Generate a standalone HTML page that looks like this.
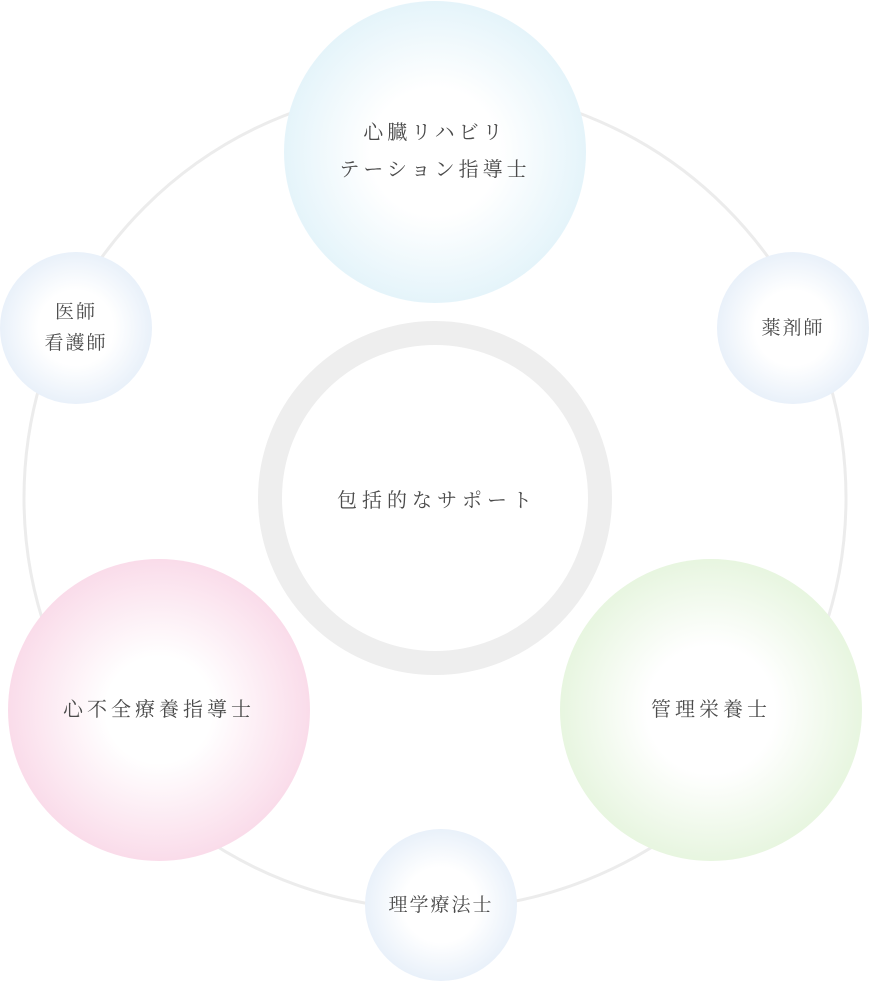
<!DOCTYPE html>
<html><head><meta charset="utf-8">
<style>
html,body{margin:0;padding:0;background:#fff;}
body{width:869px;height:981px;position:relative;overflow:hidden;font-family:"Liberation Serif","Noto Serif CJK SC",serif;color:#4a4a4a;}
.c{position:absolute;border-radius:50%;display:flex;align-items:center;justify-content:center;text-align:center;}
.big{width:302px;height:302px;font-size:20px;letter-spacing:4px;line-height:37px;}
.sm{width:152px;height:152px;font-size:19px;letter-spacing:2px;line-height:31px;}
.blue{background:radial-gradient(circle,#fff 30%,#d8eff8 90%,#d6eef8 100%);}
.sb{background:radial-gradient(circle,#fff 35%,#dde9f7 90%,#dbe8f7 100%);}
.pink{background:radial-gradient(circle,#fff 25%,#f8cde1 90%,#f7cbe0 100%);}
.green{background:radial-gradient(circle,#fff 30%,#dcf1d1 90%,#daf0cf 100%);}
</style></head><body>
<svg width="869" height="981" style="position:absolute;left:0;top:0">
<circle cx="435" cy="498" r="411" fill="none" stroke="#ececec" stroke-width="3"/>
<circle cx="435" cy="498" r="165" fill="none" stroke="#eeeeee" stroke-width="24"/>
</svg>
<div class="c" style="left:0;top:0;width:874px;height:996px;font-size:20px;letter-spacing:5px;">包括的なサポート</div>
<div class="c big blue" style="left:284px;top:1px;">心臓リハビリ<br>テーション指導士</div>
<div class="c sm sb" style="left:0;top:252px;">医師<br>看護師</div>
<div class="c sm sb" style="left:717px;top:252px;">薬剤師</div>
<div class="c big pink" style="left:8px;top:559px;">心不全療養指導士</div>
<div class="c big green" style="left:560px;top:559px;">管理栄養士</div>
<div class="c sm sb" style="left:365px;top:829px;">理学療法士</div>
</body></html>
